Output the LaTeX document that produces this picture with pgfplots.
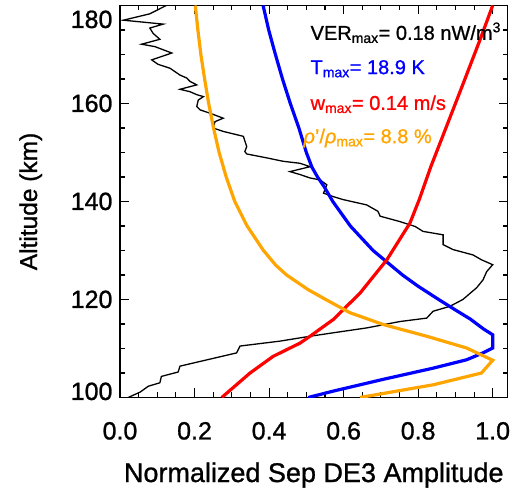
\documentclass[border=0pt]{standalone}
\usepackage{fontspec}
\setmainfont{Liberation Sans}[FakeBold=1]
\usepackage{pgfplots}
\pgfplotsset{compat=1.18}
\definecolor{rhoorange}{RGB}{255,165,0}

\begin{document}
\begin{tikzpicture}
\begin{axis}[
    name=ax,
    scale only axis,
    width=387.6pt, height=392pt,
    xmin=0, xmax=1.04,
    ymin=100, ymax=180,
    xtick={0,0.2,0.4,0.6,0.8,1.0},
    xticklabels={0.0,0.2,0.4,0.6,0.8,1.0},
    ytick={100,120,140,160,180},
    yticklabels={\raisebox{6pt}{100},120,140,160,\raisebox{-14pt}{180}},
    minor x tick num=3,
    minor y tick num=3,
    tick align=inside,
    major tick length=9pt,
    minor tick length=5pt,
    axis line style={line width=1.1pt},
    every tick/.append style={black, line width=1.1pt},
    ticklabel style={font=\fontsize{25}{30}\selectfont},
    xticklabel style={yshift=-21pt},
    yticklabel style={text height=17pt, text depth=0pt, xshift=-4pt},
    xlabel={Normalized Sep DE3 Amplitude},
    ylabel={Altitude (km)},
    xlabel style={font=\fontsize{27}{32}\selectfont, at={(axis description cs:0.5,-0.2156)}, anchor=base},
    ylabel style={font=\fontsize{24.5}{29}\selectfont, at={(axis description cs:-0.2141,0.5)}, anchor=base},
]
% VER (black)
\addplot[black, line width=1.3pt] coordinates {
  (0.124,180) (0.080,178.3) (0.009,177.0) (0.116,176.2) (0.080,175.4)
  (0.089,174.3) (0.107,173.1) (0.058,172.1) (0.094,171.6) (0.139,170.3)
  (0.085,168.9) (0.102,168.0) (0.134,167.2) (0.161,165.8) (0.179,165.2)
  (0.188,164.5) (0.206,163.8) (0.161,162.9) (0.188,162.4) (0.206,161.8)
  (0.224,161.4) (0.210,160.7) (0.206,159.4) (0.215,158.7) (0.242,158.0)
  (0.277,157.0) (0.255,156.3) (0.250,155.0) (0.277,154.3) (0.331,153.3)
  (0.340,151.2) (0.335,150.2) (0.340,149.7) (0.394,148.9) (0.438,148.2)
  (0.483,147.8) (0.510,147.1) (0.456,146.1) (0.483,145.5) (0.510,144.8)
  (0.537,144.4) (0.555,143.4) (0.546,141.7) (0.572,141.0) (0.598,140.4)
  (0.662,139.3) (0.692,138.0) (0.698,137.0) (0.751,135.9) (0.792,134.9)
  (0.813,133.9) (0.867,133.2) (0.867,131.2) (0.893,130.2) (0.947,129.1)
  (0.970,128.1) (1.000,127.1) (0.984,125.7) (0.974,124.0) (0.957,122.4)
  (0.920,120.0) (0.885,118.6) (0.840,117.6) (0.823,116.2) (0.751,115.5)
  (0.662,114.2) (0.572,113.2) (0.510,112.5) (0.429,111.5) (0.322,110.5)
  (0.313,109.1) (0.161,106.4) (0.156,105.2) (0.111,104.3) (0.107,103.0)
  (0.076,102.3) (0.054,101.1) (0.022,100.0)
};
% temperature (blue)
\addplot[blue, line width=3.2pt] coordinates {
  (0.384,180) (0.399,175) (0.417,170) (0.436,165) (0.457,160)
  (0.480,155) (0.500,150) (0.515,147) (0.530,145) (0.548,143)
  (0.571,140) (0.618,135) (0.679,130) (0.758,125) (0.800,122.7)
  (0.855,120) (0.897,118) (0.940,116) (0.975,114) (1.000,112.8)
  (1.000,110.1) (0.974,109.1) (0.930,107.7) (0.841,106.0) (0.706,103.7)
  (0.572,101.3) (0.505,100.0)
};
% vertical wind (red)
\addplot[red, line width=3.2pt] coordinates {
  (0.273,100) (0.349,105.0) (0.411,108.4) (0.483,111.1) (0.510,112.5)
  (0.572,115.9) (0.644,121.3) (0.716,128.1) (0.778,135.6) (0.803,140.4)
  (0.834,147.1) (0.876,155.3) (0.921,164.1) (0.966,173.0) (1.000,180)
};
% density (orange)
\addplot[rhoorange, line width=3.2pt] coordinates {
  (0.202,180) (0.209,175) (0.217,170) (0.227,165) (0.238,160)
  (0.251,155) (0.266,150) (0.285,145) (0.308,140) (0.341,135)
  (0.385,130) (0.418,127) (0.447,125) (0.505,122) (0.552,120)
  (0.617,117.3) (0.706,114.9) (0.823,112.5) (0.930,110.1) (1.000,107.6)
  (0.970,105.0) (0.841,102.6) (0.644,100.0)
};
\begin{scope}[font=\fontsize{20}{24}\selectfont]
\node[anchor=base west, black] at (axis cs:0.502,173.0) {VER\textsubscript{max}= 0.18 nW/m\textsuperscript{3}};
\node[anchor=base west, blue] at (axis cs:0.502,166.0) {T\textsubscript{max}= 18.9 K};
\node[anchor=base west, red] at (axis cs:0.502,158.7) {w\textsubscript{max}= 0.14 m/s};
\node[anchor=base west, rhoorange] at (axis cs:0.483,151.9) {\textit{ρ}'/\textit{ρ}\textsubscript{max}= 8.8 \%};
\end{scope}
\node[anchor=base west, font=\fontsize{36}{40}\selectfont] at (axis description cs:-0.276,-0.2276) {b)};
\end{axis}
\pgfresetboundingbox
\path ([shift={(-120pt,-95.5pt)}]ax.south west) rectangle ([shift={(4.4pt,5.5pt)}]ax.north east);
\end{tikzpicture}
\end{document}
